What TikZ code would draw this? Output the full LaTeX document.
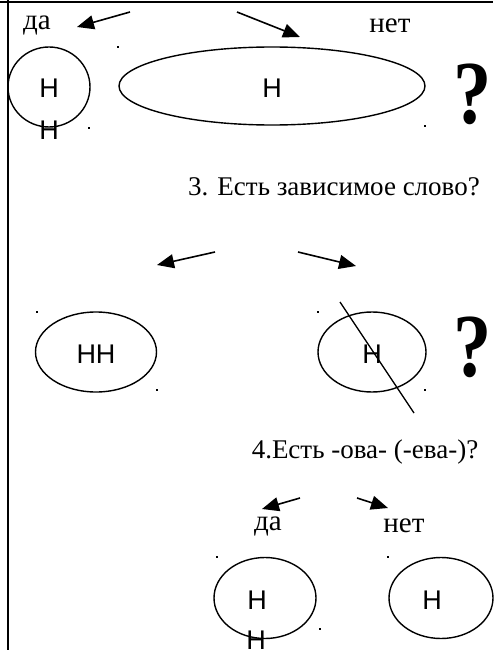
\documentclass[tikz,border=0pt]{standalone}
\usepackage{fontspec}
\setmainfont{Liberation Serif}
\newfontfamily\sansH{Liberation Sans}
\usetikzlibrary{shapes,arrows.meta,positioning,calc}

\newcommand{\thinQ}{\scalebox{0.85}[1]{?}}

\tikzset{
  reply/.style={font=\fontsize{29}{29}\selectfont, inner sep=0pt},
  query/.style={font=\fontsize{27}{27}\selectfont, inner sep=0pt},
  letter/.style={font=\sansH\fontsize{27}{27}\selectfont, inner sep=0pt},
  oval/.style={draw, ellipse, line width=1.4pt, inner sep=0pt},
  bigq/.style={font=\bfseries\fontsize{90}{90}\selectfont, inner sep=0pt},
  arr/.style={-{Triangle[length=17pt,width=14pt]}, line width=1.6pt},
  speck/.style={fill, inner sep=0pt, minimum width=1.5pt, minimum height=1.5pt}
}

\begin{document}
\begin{tikzpicture}[x=1pt,y=-1pt]
      \useasboundingbox (0,0) rectangle (493,650);
      \draw[line width=2pt] (0,2) -- (493,2);
      \draw[line width=1.3pt] (8,0) -- (8,650);

      \node[reply](da1) at (37,26){да};
      \node[reply](net1) at (390,26){нет};
      \coordinate (a1s) at (130,12);
      \coordinate (a1e) at (77,27);
      \coordinate (a2s) at (237,12);
      \coordinate (a2e) at (300,37);
      \draw[arr] (a1s) -- (a1e);
      \draw[arr] (a2s) -- (a2e);

      \node[oval, minimum width=82, minimum height=80](o1) at (49,87){};
      \node[letter](h1) at (49,88){Н};
      \node[letter](h2) at (49,130){Н};
      \node[oval, minimum width=306, minimum height=78](o2) at (272,86){};
      \node[letter](h3) at (272,88){Н};
      \node[bigq](q1) at (473,94){\thinQ};

      \node[query](step3) at (334,187){3. Есть зависимое слово?};
      \coordinate (a3s) at (215,252);
      \coordinate (a3e) at (157,265);
      \coordinate (a4s) at (298,252);
      \coordinate (a4e) at (356,266);
      \draw[arr] (a3s) -- (a3e);
      \draw[arr] (a4s) -- (a4e);

      \node[oval, minimum width=121, minimum height=80](o3) at (96,352){};
      \node[letter](hh) at (96,354){НН};
      \node[oval, minimum width=108, minimum height=80](o4) at (372,352){};
      \node[letter](h4) at (372,354){Н};
      \coordinate (c1) at (340,302);
      \coordinate (c2) at (414,413);
      \draw[line width=1.3pt] (c1) -- (c2);
      \node[bigq](q2) at (473,347){\thinQ};

      \node[query](step4) at (365,452){4.Есть -ова- (-ева-)?};
      \coordinate (a5s) at (300,498);
      \coordinate (a5e) at (262,509);
      \coordinate (a6s) at (357,498);
      \coordinate (a6e) at (388,508);
      \draw[arr] (a5s) -- (a5e);
      \draw[arr] (a6s) -- (a6e);
      \node[reply](da2) at (268,526){да};
      \node[reply](net2) at (404,526){нет};

      \node[oval, minimum width=102, minimum height=81](o5) at (265,598){};
      \node[letter](h5) at (257,600){Н};
      \node[letter](h6) at (256,640){Н};
      \node[oval, minimum width=104, minimum height=81](o6) at (441,598){};
      \node[letter](h7) at (432,600){Н};

      \foreach \p in {(8,46),(118,47),(89,128),(425,126),(37,312),(157,390),
                      (318,312),(425,390),(217,557),(320,629),(388,557)}
        \node[speck] at \p {};
\end{tikzpicture}
\end{document}
